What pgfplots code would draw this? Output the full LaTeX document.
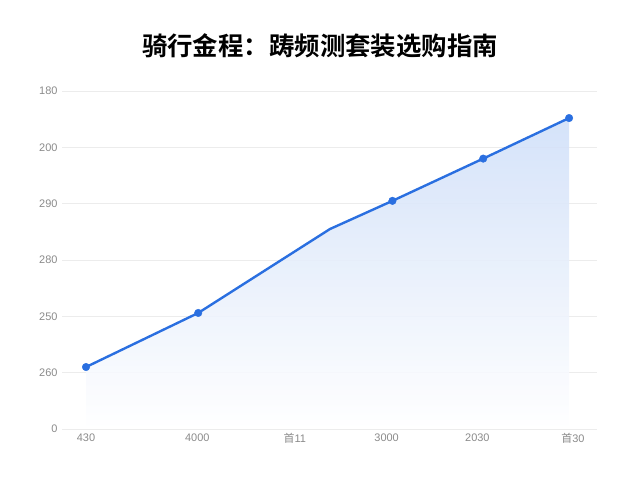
\documentclass[border=0pt]{standalone}
\usepackage{fontspec}
\setmainfont{Liberation Sans}
\newfontfamily\cjk{Noto Sans CJK SC}[BoldFont={* Bold}]
\usepackage{pgfplots}
\pgfplotsset{compat=1.18}
\definecolor{lineblue}{HTML}{2A6FE0}
\definecolor{gridgray}{HTML}{ECECEC}
\definecolor{ticktext}{HTML}{8A8A8A}
\begin{document}
\begin{tikzpicture}
\useasboundingbox (0,0) rectangle (640bp,480bp);
\node[font=\cjk\bfseries\fontsize{25.5}{30}\selectfont] at (320bp,434bp) {骑行金程：踌频测套装选购指南};
\begin{axis}[
  at={(62bp,51bp)}, anchor=south west,
  width=535bp, height=338bp, scale only axis,
  xmin=-0.246, xmax=5.236,
  ymin=0, ymax=6,
  axis line style={draw=none},
  major tick length=0pt,
  ymajorgrids, grid style={gridgray, line width=0.8pt},
  xtick={0,1.14,2.14,3.08,4.01,4.99},
  xticklabels={430,4000,{\cjk 首}11,3000,2030,{\cjk 首}30},
  ytick={0,1,2,3,4,5,6},
  yticklabels={0,260,250,280,290,200,180},
  ticklabel style={font=\fontsize{11}{13}\selectfont, text=ticktext},
  yticklabel style={xshift=-1bp},
  xticklabel style={yshift=-1bp},
  /pgf/number format/assume math mode=true,
]
% shaded area under the curve
\addplot[draw=none, top color=lineblue!22, bottom color=white, fill opacity=0.9]
  coordinates {(0,1.10) (1.15,2.06) (2.50,3.55) (3.14,4.05) (4.07,4.80) (4.95,5.52)}
  \closedcycle;
% line
\addplot[lineblue, line width=2.4pt, no marks, line join=round]
  coordinates {(0,1.10) (1.15,2.06) (2.50,3.55) (3.14,4.05) (4.07,4.80) (4.95,5.52)};
% markers
\addplot[only marks, mark=*, mark size=3.8pt, color=lineblue]
  coordinates {(0,1.10) (1.15,2.06) (3.14,4.05) (4.07,4.80) (4.95,5.52)};
\end{axis}
\end{tikzpicture}
\end{document}
